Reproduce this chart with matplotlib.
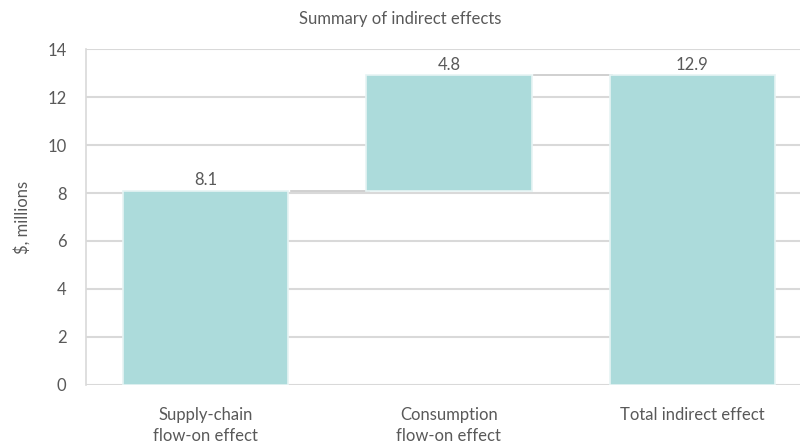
import matplotlib
matplotlib.use("Agg")
import matplotlib.pyplot as plt

categories = ["Supply-chain\nflow-on effect", "Consumption\nflow-on effect", "Total indirect effect"]
values = [8.1, 4.8, 12.9]
is_total = [False, False, True]
y_ticks = [0, 2, 4, 6, 8, 10, 12, 14]

plt.rcParams["font.family"] = ["Lato", "DejaVu Sans"]
text_color = "#595959"
bar_color = "#acdbdb"
grid_color = "#d9d9d9"

fig = plt.figure(figsize=(8.01, 4.46), dpi=100)
ax = fig.add_axes([0.1074, 0.1368, 0.8914, 0.7533])

# waterfall bases
bases = []
running = 0.0
for v, tot in zip(values, is_total):
    if tot:
        bases.append(0.0)
        running = v
    else:
        bases.append(running)
        running += v

xs = list(range(len(values)))
width = 0.68
ax.bar([x - 0.01 for x in xs], values, bottom=bases, width=width, color=bar_color,
       edgecolor="#e6f4f4", linewidth=1.2, zorder=3)

# connectors between consecutive bars
for i in range(len(values) - 1):
    level = bases[i] + values[i]
    ax.plot([xs[i] + width / 2, xs[i + 1] - width / 2], [level, level],
            color="#c8c8c8", linewidth=1.2, zorder=2)

# value labels
for x, b, v in zip(xs, bases, values):
    ax.text(x - 0.01, b + v + 0.12, f"{v:.1f}", ha="center", va="bottom",
            fontsize=12, color=text_color, zorder=4)

ax.set_xlim(-0.5, 2.432)
ax.set_ylim(0, 14)
ax.set_yticks(y_ticks)
ax.set_xticks([x - 0.01 for x in xs])
ax.set_xticklabels(categories, fontsize=12, color=text_color, linespacing=1.35)
ax.tick_params(axis="y", labelsize=12, colors=text_color, length=0, pad=14)
ax.tick_params(axis="x", length=0, pad=16)
ax.grid(axis="y", color=grid_color, linewidth=1.5, zorder=0)
ax.set_axisbelow(True)
for side in ["top", "right", "bottom"]:
    ax.spines[side].set_visible(False)
ax.spines["left"].set_color(grid_color)
ax.spines["left"].set_linewidth(1.2)

ax.set_ylabel("\\$, millions", fontsize=12, color=text_color, labelpad=12)
fig.text(0.5, 0.958, "Summary of indirect effects", ha="center", va="center",
         fontsize=12, color=text_color)

fig.savefig("out.png", dpi=100)
